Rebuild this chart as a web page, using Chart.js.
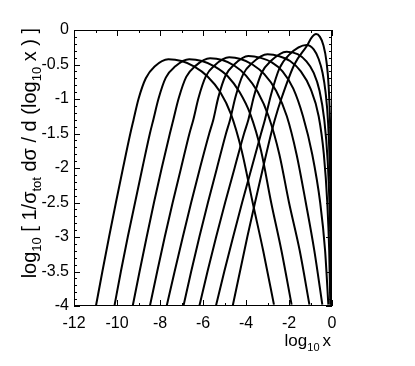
<!DOCTYPE html>
<html><head><meta charset="utf-8">
<script src="https://cdn.jsdelivr.net/npm/chart.js@4/dist/chart.umd.min.js"></script>
<style>html,body{margin:0;padding:0;background:#fff}#wrap{width:415px;height:366px}</style>
</head><body><div id="wrap"><canvas id="c" width="415" height="366"></canvas></div>
<script>
// tick labels
const xTicks = [-12, -10, -8, -6, -4, -2, 0];
const yTicks = [-4, -3.5, -3, -2.5, -2, -1.5, -1, -0.5, 0];

// curves (log10 x , log10 density)
const c1x = [-10.98,-10.68,-10.37,-10.05,-9.72,-9.38,-9.23,-9.00,-8.66,-8.25,-7.61,-7.0,-6.4,-5.8,-5.2,-4.7,-4.2,-3.69,-3.2,-2.70];
const c1y = [-4,-3.5,-3,-2.5,-2,-1.5,-1.3,-1.0,-0.7,-0.53,-0.425,-0.45,-0.53,-0.67,-0.9,-1.22,-1.75,-2.5,-3.2,-3.98];
const c2x = [-10.12,-9.82,-9.50,-9.16,-8.82,-8.47,-8.31,-8.07,-7.73,-7.30,-6.64,-6.05,-5.45,-4.85,-4.3,-3.8,-3.3,-2.83,-2.35,-1.88];
const c2y = [-4,-3.5,-3,-2.5,-2,-1.5,-1.3,-0.996,-0.69,-0.53,-0.425,-0.45,-0.53,-0.67,-0.9,-1.22,-1.75,-2.5,-3.2,-3.98];
const c3x = [-9.27,-8.95,-8.62,-8.28,-7.92,-7.54,-7.38,-7.13,-6.78,-6.35,-5.67,-5.1,-4.55,-4.0,-3.45,-2.95,-2.45,-2.0,-1.5,-1.05];
const c3y = [-4,-3.5,-3,-2.5,-2,-1.5,-1.3,-0.99,-0.68,-0.52,-0.41,-0.435,-0.515,-0.66,-0.9,-1.25,-1.8,-2.5,-3.2,-3.98];
const c4x = [-8.47,-8.13,-7.78,-7.41,-7.02,-6.63,-6.45,-6.21,-5.87,-5.45,-4.78,-4.25,-3.7,-3.15,-2.6,-2.1,-1.65,-1.22,-0.82,-0.45];
const c4y = [-4,-3.5,-3,-2.5,-2,-1.5,-1.3,-0.986,-0.673,-0.51,-0.396,-0.42,-0.5,-0.64,-0.88,-1.25,-1.8,-2.5,-3.2,-3.98];
const c5x = [-7.69,-7.32,-6.94,-6.55,-6.14,-5.71,-5.52,-5.29,-4.95,-4.55,-3.89,-3.35,-2.8,-2.3,-1.8,-1.35,-0.92,-0.55,-0.32,-0.17];
const c5y = [-4,-3.5,-3,-2.5,-2,-1.5,-1.3,-0.98,-0.66,-0.5,-0.377,-0.4,-0.47,-0.6,-0.85,-1.25,-1.8,-2.5,-3.2,-3.98];
const c6x = [-6.91,-6.55,-6.17,-5.77,-5.35,-4.93,-4.74,-4.49,-4.13,-3.72,-3.00,-2.45,-1.95,-1.45,-1.0,-0.62,-0.38,-0.22,-0.13,-0.08];
const c6y = [-4,-3.5,-3,-2.5,-2,-1.5,-1.3,-0.97,-0.64,-0.48,-0.353,-0.38,-0.45,-0.6,-0.85,-1.25,-1.8,-2.5,-3.2,-3.98];
const c7x = [-6.17,-5.79,-5.39,-4.97,-4.53,-4.09,-3.89,-3.63,-3.27,-2.85,-2.11,-1.6,-1.2,-0.85,-0.58,-0.36,-0.2,-0.11,-0.06,-0.04];
const c7y = [-4,-3.5,-3,-2.5,-2,-1.5,-1.3,-0.96,-0.62,-0.45,-0.314,-0.35,-0.45,-0.62,-0.88,-1.3,-1.9,-2.6,-3.3,-3.98];
const c8x = [-5.40,-5.01,-4.60,-4.18,-3.74,-3.30,-3.12,-2.83,-2.45,-2.00,-1.18,-0.85,-0.62,-0.44,-0.3,-0.18,-0.1,-0.05,-0.025];
const c8y = [-4,-3.5,-3,-2.5,-2,-1.5,-1.3,-0.93,-0.56,-0.36,-0.217,-0.28,-0.42,-0.62,-0.9,-1.35,-2.0,-2.8,-3.98];
const c9x = [-4.62,-4.28,-3.94,-3.58,-3.21,-2.83,-2.66,-2.36,-1.75,-1.15,-0.95,-0.74,-0.56,-0.4,-0.26,-0.15,-0.08,-0.04,-0.012];
const c9y = [-4,-3.5,-3,-2.5,-2,-1.5,-1.3,-1.0,-0.5,-0.22,-0.11,-0.058,-0.1,-0.22,-0.45,-0.85,-1.5,-2.5,-3.98];

const curves = [[c1x,c1y],[c2x,c2y],[c3x,c3y],[c4x,c4y],[c5x,c5y],[c6x,c6y],[c7x,c7y],[c8x,c8y],[c9x,c9y]];

const FONT = "'Liberation Sans', Arial, Helvetica, sans-serif";

const datasets = curves.map(([xs, ys]) => ({
  data: xs.map((x, i) => ({x, y: ys[i]})),
  showLine: true,
  borderColor: '#000',
  borderWidth: 2,
  pointRadius: 0,
  fill: false,
  cubicInterpolationMode: 'monotone'
}));

const framePlugin = {
  id: 'frame',
  afterDatasetsDraw(chart) {
    const {ctx, chartArea: a, scales: {x, y}} = chart;
    ctx.save();
    ctx.strokeStyle = '#000';
    ctx.lineWidth = 1;
    ctx.strokeRect(a.left + 0.5, a.top + 0.5, a.right - a.left - 1, a.bottom - a.top - 1);
    ctx.beginPath();
    for (let v = -12; v <= 0.001; v += 1) {
      const px = Math.round(x.getPixelForValue(v)) + 0.5;
      const L = (Math.abs(v % 2) < 1e-6) ? 6 : 3;
      ctx.moveTo(px, a.bottom); ctx.lineTo(px, a.bottom - L);
      ctx.moveTo(px, a.top); ctx.lineTo(px, a.top + L);
    }
    for (let i = 0; i <= 40; i++) {
      const v = -4 + i * 0.1;
      const py = Math.round(y.getPixelForValue(v)) + 0.5;
      const L = (i % 5 === 0) ? 6 : 3;
      ctx.moveTo(a.left, py); ctx.lineTo(a.left + L, py);
      ctx.moveTo(a.right, py); ctx.lineTo(a.right - L, py);
    }
    ctx.stroke();
    ctx.restore();
  },
  afterDraw(chart) {
    const {ctx, chartArea: a} = chart;
    ctx.save();
    ctx.fillStyle = '#000';
    function width(parts, big, small) {
      let w = 0;
      for (const p of parts) {
        ctx.font = (p.sub ? small : big) + 'px ' + FONT;
        w += ctx.measureText(p.t).width + (p.gap || 0);
      }
      return w;
    }
    function drawParts(parts, x0, y0, big, small, drop) {
      let xx = x0;
      for (const p of parts) {
        ctx.font = (p.sub ? small : big) + 'px ' + FONT;
        ctx.fillText(p.t, xx, y0 + (p.sub ? drop : 0));
        xx += ctx.measureText(p.t).width + (p.gap || 0);
      }
    }
    ctx.textBaseline = 'alphabetic';
    ctx.textAlign = 'left';
    const xt = [{t:'log'},{t:'10',sub:true, gap:3},{t:'x'}];
    const wx = width(xt, 17, 11);
    drawParts(xt, a.right - wx - 1, 346, 17, 11, 5);
    const yt = [{t:'log'},{t:'10',sub:true},{t:' [ 1/σ'},{t:'tot',sub:true},{t:' dσ / d (log'},{t:'10',sub:true},{t:' x ) ]'}];
    const wy = width(yt, 20, 13);
    ctx.translate(36, a.top - 2);
    ctx.rotate(-Math.PI / 2);
    drawParts(yt, -wy, 0, 20, 13, 5);
    ctx.restore();
  }
};

new Chart(document.getElementById('c'), {
  type: 'scatter',
  data: { datasets },
  options: {
    responsive: false,
    devicePixelRatio: 1,
    animation: false,
    events: [],
    layout: { padding: { left: 0, top: 30, right: 83, bottom: 0 } },
    plugins: { legend: { display: false }, tooltip: { enabled: false } },
    scales: {
      x: {
        type: 'linear', min: -12, max: 0,
        afterFit(s) { s.height = 60; },
        afterBuildTicks(s) { s.ticks = xTicks.map(v => ({value: v})); },
        grid: { display: false, drawTicks: false },
        border: { display: false },
        ticks: { color: '#000', font: { family: FONT, size: 16 }, padding: 8, maxRotation: 0,
                 callback: v => String(v) }
      },
      y: {
        type: 'linear', min: -4, max: 0,
        afterFit(s) { s.width = 74; },
        afterBuildTicks(s) { s.ticks = yTicks.map(v => ({value: v})); },
        grid: { display: false, drawTicks: false },
        border: { display: false },
        ticks: { color: '#000', font: { family: FONT, size: 16 }, padding: 5,
                 callback: v => String(v) }
      }
    }
  },
  plugins: [framePlugin]
});
</script>
</body></html>
